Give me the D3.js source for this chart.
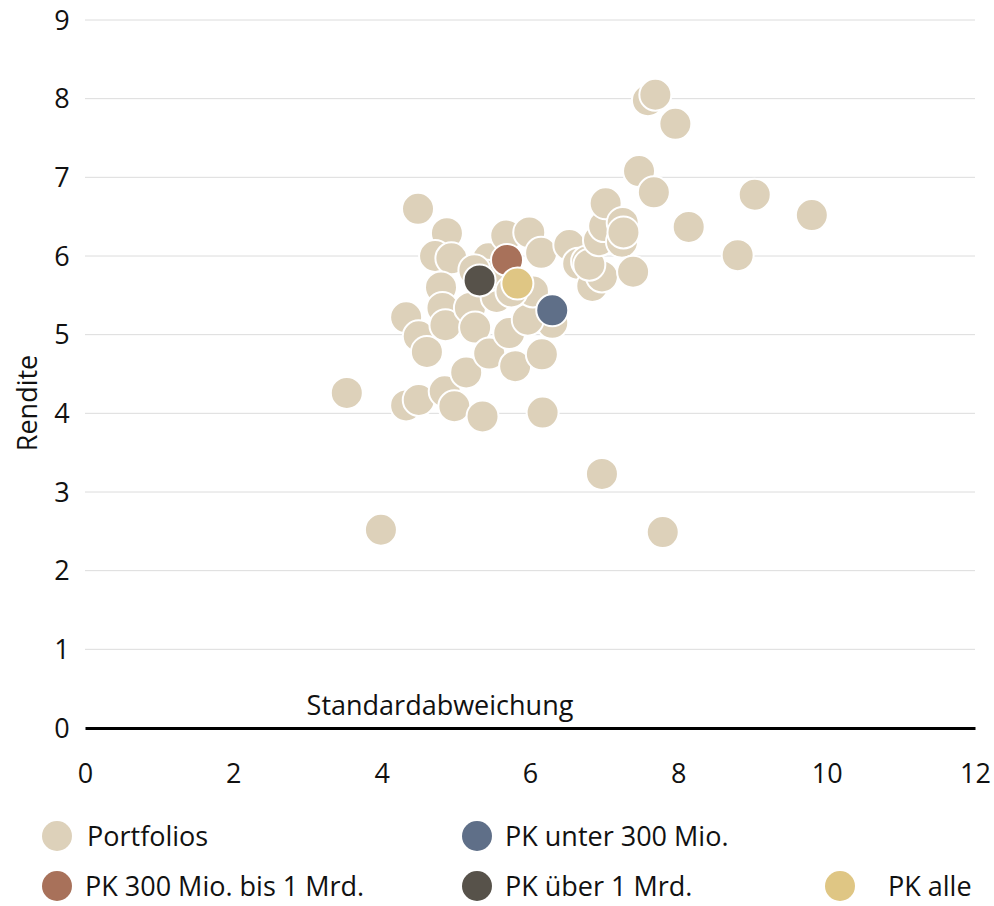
<!DOCTYPE html>
<html><head><meta charset="utf-8">
<script src="https://cdn.jsdelivr.net/npm/d3@7"></script>
<style>
body{margin:0;background:#fff;}
svg text{font-family:"Open Sans","Noto Sans",sans-serif;fill:#111;}
</style></head>
<body><svg id="c" width="994" height="906"></svg>
<script>
// Portfolios: [Standardabweichung, Rendite]
const portfolios = [
 [3.53,4.26],[3.99,2.52],[4.49,6.60],[4.33,5.22],[4.33,4.10],[4.50,4.17],[4.50,4.98],
 [4.61,4.78],[4.85,4.28],[4.98,4.09],[4.88,6.29],[4.72,6.00],[4.94,5.97],[4.80,5.60],
 [4.82,5.34],[4.86,5.12],[5.14,4.52],[5.36,3.96],[5.19,5.34],[5.26,5.09],[5.55,5.48],
 [5.44,5.97],[5.68,6.26],[5.99,6.30],[6.15,6.04],[5.45,4.76],[5.80,4.60],[6.16,4.75],
 [6.17,4.01],[5.72,5.02],[6.30,5.15],[5.97,5.19],[6.04,5.55],[6.53,6.14],[6.65,5.90],
 [6.77,5.93],[6.84,5.62],[6.97,5.74],[6.80,5.89],[7.15,6.22],[6.93,6.20],[7.00,6.38],
 [7.02,6.67],[7.25,6.42],[7.24,6.18],[7.26,6.30],[7.39,5.80],[7.47,7.08],[7.67,6.81],
 [7.59,7.98],[7.69,8.05],[7.96,7.68],[8.14,6.37],[8.80,6.01],[9.03,6.78],[9.80,6.52],
 [6.97,3.23],[7.79,2.49],[5.43,5.75],[5.75,5.55],[5.25,5.82]
];
const pkUnter300 = [[6.30,5.31]];
const pk300bis1Mrd = [[5.69,5.95]];
const pkUeber1Mrd = [[5.32,5.69]];
const pkAlle = [[5.83,5.65]];

const xTicks = [0,2,4,6,8,10,12];
const yTicks = [0,1,2,3,4,5,6,7,8,9];
const seriesNames = ["Portfolios","PK unter 300 Mio.","PK 300 Mio. bis 1 Mrd.","PK über 1 Mrd.","PK alle"];
const seriesColors = ["#ddd1ba","#5f6f88","#a8715a","#57524a","#dfc684"];

const svg = d3.select("#c");
const x = d3.scaleLinear().domain([0,12]).range([85,975]);
const y = d3.scaleLinear().domain([0,9]).range([728,20]);

// gridlines
svg.append("g").selectAll("line").data(yTicks.filter(d=>d>0)).join("line")
 .attr("x1",x(0)).attr("x2",x(12)).attr("y1",d=>y(d)).attr("y2",d=>y(d))
 .attr("stroke","#dcdcdc").attr("stroke-width",1);

// y labels
svg.append("g").selectAll("text").data(yTicks).join("text")
 .attr("x",62).attr("y",d=>y(d)).attr("dy","0.36em").attr("text-anchor","middle")
 .attr("font-size",27).text(d=>d);

// x axis
const xa = svg.append("g").attr("transform",`translate(0,${y(0)})`)
 .call(d3.axisBottom(x).tickValues(xTicks).tickSize(0).tickPadding(36));
xa.select(".domain").attr("stroke","#000").attr("stroke-width",3);
xa.selectAll("text").attr("font-size",27).attr("font-family","Open Sans").attr("fill","#111");

svg.append("text").attr("x",440).attr("y",715).attr("text-anchor","middle").attr("font-size",27).text("Standardabweichung");
svg.append("text").attr("transform","translate(37,403) rotate(-90)").attr("text-anchor","middle").attr("font-size",27).text("Rendite");

const all = [portfolios,pkUnter300,pk300bis1Mrd,pkUeber1Mrd,pkAlle];
all.forEach((arr,i)=>{
 svg.append("g").selectAll("circle").data(arr).join("circle")
  .attr("cx",d=>x(d[0])).attr("cy",d=>y(d[1])).attr("r",16)
  .attr("fill",seriesColors[i]).attr("stroke","#fff").attr("stroke-width",2);
});

// legend
const leg = [
 {i:0,cx:57,cy:836,tx:87},
 {i:1,cx:477,cy:836,tx:505},
 {i:2,cx:57,cy:886,tx:85},
 {i:3,cx:477,cy:886,tx:505},
 {i:4,cx:840,cy:886,tx:888}
];
const lg = svg.append("g").selectAll("g").data(leg).join("g");
lg.append("circle").attr("cx",d=>d.cx).attr("cy",d=>d.cy).attr("r",15).attr("fill",d=>seriesColors[d.i]);
lg.append("text").attr("x",d=>d.tx).attr("y",d=>d.cy).attr("dy","0.36em").attr("font-size",27).text(d=>seriesNames[d.i]);
</script></body></html>
